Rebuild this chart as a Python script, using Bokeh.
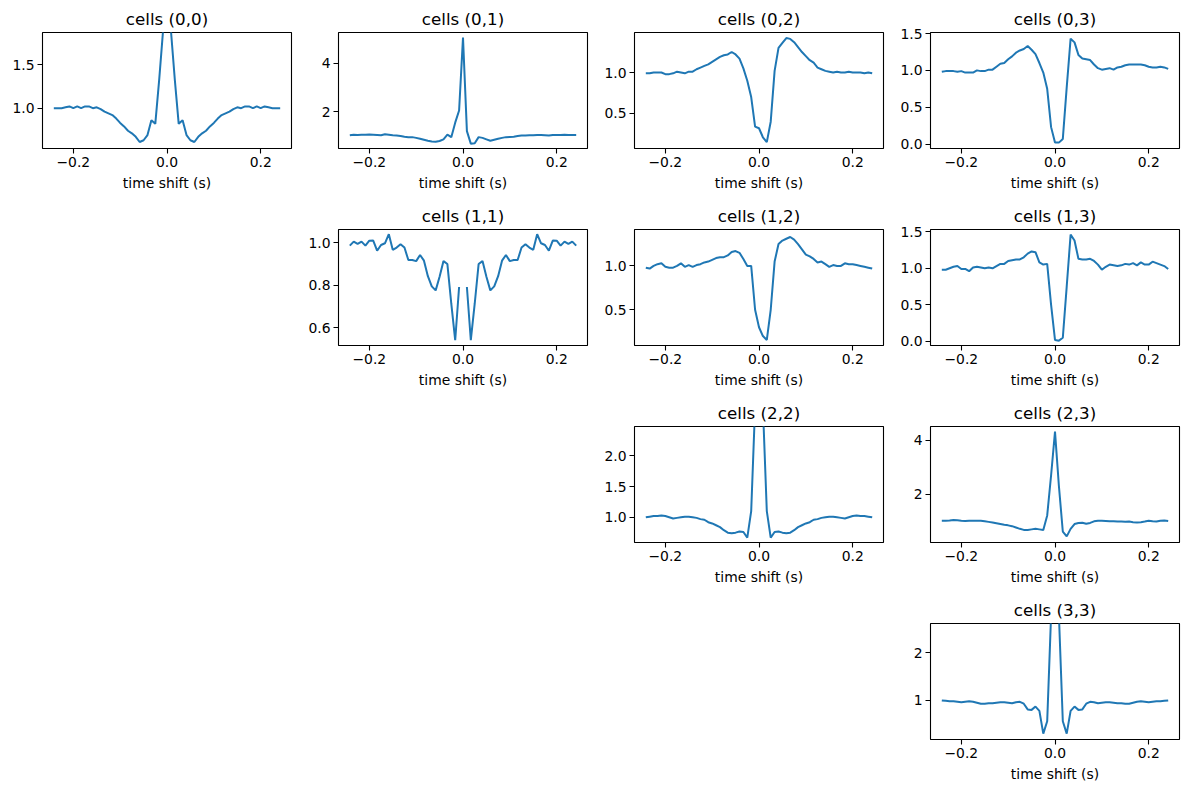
import numpy as np
from bokeh.plotting import figure
from bokeh.layouts import gridplot
from bokeh.models import Range1d, FixedTicker
from bokeh.embed import file_html
from bokeh.resources import INLINE

# time lags (s): bin centres, 1/120 s bins
lags = [k / 120 for k in range(-29, 30)]

N = None  # centre bin of an auto-correlogram is not shown

cc_0_0 = [1.00, 1.00, 1.00, 1.01, 1.02, 1.00, 1.02, 1.00, 1.02, 1.02, 1.00, 1.01, 0.99, 0.96, 0.94,
          0.92, 0.88, 0.83, 0.79, 0.74, 0.71, 0.67, 0.61, 0.63, 0.69, 0.86, 0.82, 1.33, 1.90,
          N,
          1.90, 1.33, 0.82, 0.86, 0.69, 0.63, 0.61, 0.67, 0.71, 0.74, 0.79, 0.83, 0.88, 0.92,
          0.94, 0.96, 0.99, 1.01, 1.00, 1.02, 1.02, 1.00, 1.02, 1.00, 1.02, 1.01, 1.00, 1.00, 1.00]

cc_0_1 = [1.03, 1.05, 1.04, 1.05, 1.05, 1.06, 1.05, 1.04, 1.03, 1.07, 1.05, 1.03, 1.02, 1.00, 0.97,
          0.95, 0.95, 0.92, 0.88, 0.84, 0.80, 0.77, 0.76, 0.79, 0.86, 1.05, 0.95, 1.55, 2.05,
          5.07,
          1.20, 0.68, 0.70, 0.95, 0.92, 0.86, 0.80, 0.84, 0.88, 0.92, 0.95, 0.96, 0.97, 1.00,
          1.02, 1.02, 1.03, 1.03, 1.04, 1.04, 1.03, 1.02, 1.04, 1.04, 1.04, 1.05, 1.04, 1.04, 1.04]

cc_0_2 = [0.99, 0.99, 1.00, 1.00, 1.00, 0.98, 0.98, 0.99, 1.01, 1.00, 0.99, 1.01, 1.01, 1.04, 1.06,
          1.08, 1.10, 1.13, 1.16, 1.19, 1.21, 1.22, 1.25, 1.22, 1.17, 1.05, 0.90, 0.70, 0.34,
          0.32,
          0.21, 0.15, 0.40, 1.02, 1.30, 1.36, 1.42, 1.41, 1.37, 1.31, 1.25, 1.20, 1.15, 1.12,
          1.06, 1.04, 1.02, 1.01, 1.00, 1.01, 1.00, 1.00, 1.01, 1.00, 1.00, 1.00, 0.99, 1.00, 0.99]

cc_0_3 = [0.98, 0.99, 0.99, 0.99, 0.98, 0.99, 0.97, 0.97, 0.97, 1.00, 0.99, 0.99, 1.01, 1.01, 1.05,
          1.09, 1.10, 1.15, 1.19, 1.24, 1.27, 1.29, 1.33, 1.28, 1.22, 1.10, 0.97, 0.75, 0.23,
          0.02,
          0.02, 0.07, 0.77, 1.43, 1.38, 1.21, 1.16, 1.15, 1.14, 1.08, 1.03, 1.01, 1.02, 1.03,
          1.01, 1.04, 1.05, 1.07, 1.08, 1.08, 1.08, 1.08, 1.07, 1.05, 1.04, 1.04, 1.05, 1.04, 1.02]

cc_1_1 = [0.987, 1.006, 0.995, 1.006, 0.987, 1.010, 1.011, 0.963, 0.990, 0.998, 1.041, 0.967,
          0.978, 0.994, 0.978, 0.919, 0.919, 0.914, 0.943, 0.916, 0.843, 0.795, 0.776, 0.840,
          0.914, 0.900, 0.713, 0.541, 0.792,
          N,
          0.792, 0.541, 0.713, 0.900, 0.914, 0.840, 0.776, 0.795, 0.843, 0.916, 0.943, 0.914,
          0.919, 0.919, 0.978, 0.994, 0.978, 0.967, 1.041, 0.998, 0.990, 0.963, 1.011, 1.010,
          0.987, 1.006, 0.995, 1.006, 0.987]

cc_1_2 = [0.98, 0.97, 1.00, 1.02, 1.03, 0.99, 0.98, 0.98, 1.00, 1.03, 0.99, 1.01, 0.99, 1.01, 1.02,
          1.04, 1.05, 1.07, 1.09, 1.10, 1.10, 1.12, 1.16, 1.17, 1.15, 1.08, 1.00, 1.00, 0.50,
          0.30,
          0.20, 0.155, 0.50, 1.05, 1.25, 1.29, 1.31, 1.33, 1.30, 1.25, 1.19, 1.13, 1.11, 1.08,
          1.04, 1.05, 1.02, 0.99, 1.01, 1.00, 1.00, 1.03, 1.02, 1.02, 1.01, 1.00, 0.99, 0.98, 0.97]

cc_1_3 = [0.98, 0.98, 1.00, 1.02, 1.03, 0.99, 0.99, 0.96, 1.01, 1.02, 1.01, 1.00, 1.01, 1.00, 1.03,
          1.06, 1.06, 1.10, 1.11, 1.12, 1.12, 1.15, 1.20, 1.23, 1.22, 1.08, 1.05, 1.06, 0.50,
          0.02,
          0.01, 0.05, 0.75, 1.46, 1.38, 1.13, 1.12, 1.12, 1.13, 1.10, 1.05, 0.98, 1.02, 1.05,
          1.04, 1.03, 1.04, 1.06, 1.05, 1.07, 1.04, 1.08, 1.05, 1.05, 1.09, 1.07, 1.05, 1.03, 0.99]

cc_2_2 = [1.00, 1.01, 1.02, 1.02, 1.03, 1.02, 1.00, 0.98, 0.99, 1.00, 1.01, 1.01, 1.00, 0.99, 0.97,
          0.96, 0.92, 0.90, 0.87, 0.84, 0.79, 0.75, 0.74, 0.75, 0.77, 0.76, 0.67, 1.10, 2.80,
          N,
          2.80, 1.10, 0.67, 0.76, 0.77, 0.75, 0.74, 0.75, 0.79, 0.84, 0.87, 0.90, 0.92, 0.96,
          0.97, 0.99, 1.00, 1.01, 1.01, 1.00, 0.99, 0.98, 1.00, 1.02, 1.03, 1.02, 1.02, 1.01, 1.00]

cc_2_3 = [1.00, 1.00, 1.01, 1.03, 1.02, 1.00, 0.99, 1.00, 1.00, 1.00, 1.00, 0.98, 0.96, 0.94, 0.91,
          0.88, 0.85, 0.83, 0.80, 0.75, 0.70, 0.66, 0.66, 0.68, 0.70, 0.68, 0.66, 1.20, 2.70,
          4.33,
          2.30, 0.60, 0.42, 0.70, 0.88, 0.92, 0.93, 0.89, 0.92, 0.98, 1.00, 1.00, 0.99, 0.98,
          0.98, 0.97, 0.97, 0.96, 0.97, 0.95, 0.94, 0.95, 0.97, 1.00, 0.98, 0.97, 1.00, 1.01, 0.99]

cc_3_3 = [1.00, 0.99, 0.98, 0.98, 0.97, 0.96, 0.97, 0.98, 0.97, 0.95, 0.93, 0.93, 0.94, 0.94, 0.95,
          0.96, 0.96, 0.95, 0.94, 0.96, 0.97, 0.93, 0.81, 0.80, 0.87, 0.78, 0.30, 0.56, 2.80,
          N,
          2.80, 0.56, 0.30, 0.78, 0.87, 0.80, 0.81, 0.93, 0.97, 0.96, 0.94, 0.95, 0.96, 0.96,
          0.95, 0.94, 0.94, 0.93, 0.93, 0.95, 0.97, 0.98, 0.97, 0.96, 0.97, 0.98, 0.98, 0.99, 1.00]

# panel (row, col) -> series
panel_keys = [(0, 0), (0, 1), (0, 2), (0, 3), (1, 1), (1, 2), (1, 3), (2, 2), (2, 3), (3, 3)]
panel_series = [cc_0_0, cc_0_1, cc_0_2, cc_0_3, cc_1_1, cc_1_2, cc_1_3, cc_2_2, cc_2_3, cc_3_3]
panel_ylims = [(0.535, 1.873), (0.48, 5.28), (0.073, 1.488), (-0.06, 1.514), (0.516, 1.063),
               (0.092, 1.416), (-0.056, 1.53), (0.59, 2.475), (0.19, 4.52), (0.176, 2.62)]
panel_yticks = [[1.0, 1.5], [2, 4], [0.5, 1.0], [0.0, 0.5, 1.0, 1.5], [0.6, 0.8, 1.0],
                [0.5, 1.0], [0.0, 0.5, 1.0, 1.5], [1.0, 1.5, 2.0], [2, 4], [1, 2]]
panel_ylabels = [["1.0", "1.5"], ["2", "4"], ["0.5", "1.0"], ["0.0", "0.5", "1.0", "1.5"],
                 ["0.6", "0.8", "1.0"], ["0.5", "1.0"], ["0.0", "0.5", "1.0", "1.5"],
                 ["1.0", "1.5", "2.0"], ["2", "4"], ["1", "2"]]
x_ticks = [-0.2, 0.0, 0.2]
x_tick_labels = ["\u22120.2", "0.0", "0.2"]
x_label = "time shift (s)"

FONT = "DejaVu Sans"
BLUE = "#1f77b4"

grid = [[None] * 4 for _ in range(4)]
for (r, c), ys, ylim, yt, yl in zip(panel_keys, panel_series, panel_ylims, panel_yticks, panel_ylabels):
    p = figure(frame_width=249, frame_height=116, output_backend="svg", toolbar_location=None,
               x_range=Range1d(-0.2658, 0.2658), y_range=Range1d(*ylim),
               min_border_left=42, min_border_right=5, min_border_top=32, min_border_bottom=49,
               title=f"cells ({r},{c})")
    y = np.array([np.nan if v is None else v for v in ys], dtype=float)
    p.line(lags, y, line_color=BLUE, line_width=2)
    p.background_fill_color = "white"
    p.border_fill_color = "white"
    p.outline_line_color = "black"
    p.outline_line_width = 1.1
    p.xgrid.visible = False
    p.ygrid.visible = False
    p.title.align = "center"
    p.title.text_font = FONT
    p.title.text_font_size = "16.7px"
    p.title.text_font_style = "normal"
    p.title.text_color = "black"
    p.title.standoff = 7
    for ax in (p.xaxis[0], p.yaxis[0]):
        ax.axis_line_color = None
        ax.major_tick_line_color = "black"
        ax.major_tick_line_width = 1.1
        ax.major_tick_in = 0
        ax.major_tick_out = 5
        ax.minor_tick_line_color = None
        ax.major_label_text_font = FONT
        ax.major_label_text_font_size = "13.9px"
        ax.major_label_text_color = "black"
        ax.major_label_standoff = 3
    p.xaxis[0].ticker = FixedTicker(ticks=x_ticks)
    p.xaxis[0].major_label_overrides = {t: s for t, s in zip(x_ticks, x_tick_labels)}
    p.yaxis[0].ticker = FixedTicker(ticks=[float(t) for t in yt])
    p.yaxis[0].major_label_overrides = {float(t): s for t, s in zip(yt, yl)}
    p.xaxis[0].axis_label = x_label
    p.xaxis[0].axis_label_text_font = FONT
    p.xaxis[0].axis_label_text_font_size = "13.9px"
    p.xaxis[0].axis_label_text_font_style = "normal"
    p.xaxis[0].axis_label_text_color = "black"
    p.xaxis[0].axis_label_standoff = 5
    grid[r][c] = p

layout = gridplot(grid, toolbar_location=None)
open("out.html", "w").write(file_html(layout, INLINE))
